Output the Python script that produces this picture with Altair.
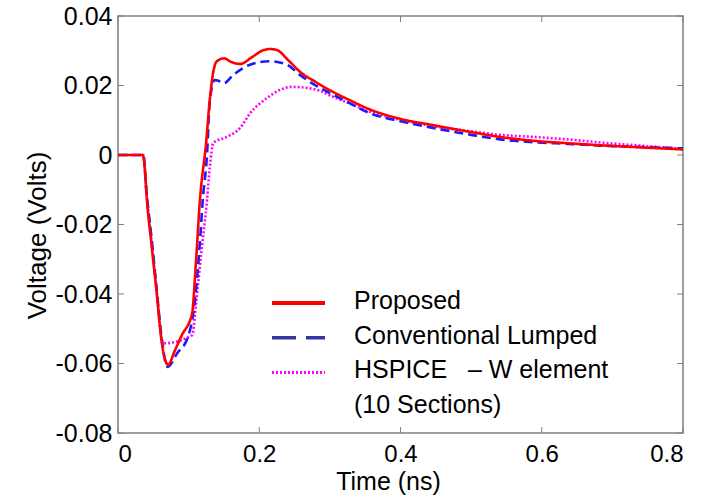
import altair as alt
import pandas as pd

# ---- data ----
series_names = ["Proposed", "Conventional Lumped", "HSPICE\u00a0\u00a0\u00a0\u2013 W element"]
note_text = "(10 Sections)"

t_prop = [0, 0.035, 0.038, 0.041, 0.047, 0.054, 0.062, 0.071, 0.08, 0.09, 0.105,
          0.110, 0.116, 0.125, 0.130, 0.135, 0.140, 0.150, 0.160, 0.173, 0.190,
          0.205, 0.215, 0.225, 0.240, 0.258, 0.280, 0.305, 0.330, 0.352, 0.400,
          0.446, 0.500, 0.541, 0.588, 0.636, 0.683, 0.740, 0.800]
v_prop = [0, 0, -0.004, -0.013, -0.025, -0.038, -0.054, -0.0604, -0.0565, -0.052, -0.0455,
          -0.032, -0.013, 0.004, 0.016, 0.024, 0.027, 0.0278, 0.0268, 0.0262, 0.0282,
          0.0301, 0.0305, 0.0302, 0.0275, 0.0239, 0.0210, 0.0181, 0.0156, 0.0135, 0.0104,
          0.0086, 0.0066, 0.0052, 0.0041, 0.0034, 0.0028, 0.0022, 0.0016]

t_conv = [0, 0.036, 0.040, 0.047, 0.054, 0.062, 0.070, 0.084, 0.099, 0.109,
          0.116, 0.120, 0.126, 0.130, 0.137, 0.143, 0.150, 0.163, 0.187, 0.215,
          0.239, 0.258, 0.280, 0.305, 0.330, 0.352, 0.400, 0.446, 0.500, 0.541,
          0.588, 0.636, 0.683, 0.740, 0.800]
v_conv = [0, 0, -0.010, -0.023, -0.037, -0.053, -0.061, -0.057, -0.0524, -0.0417,
          -0.025, -0.013, 0.0, 0.0155, 0.0216, 0.0213, 0.0207, 0.0230, 0.0260, 0.0270,
          0.0260, 0.0230, 0.0200, 0.0173, 0.0147, 0.0124, 0.0097, 0.0078, 0.0058, 0.0045,
          0.0037, 0.0032, 0.0027, 0.0023, 0.0019]

t_hsp = [0, 0.036, 0.040, 0.047, 0.054, 0.064, 0.105, 0.111, 0.118, 0.126,
         0.130, 0.135, 0.154, 0.173, 0.187, 0.211, 0.229, 0.246, 0.268, 0.282,
         0.305, 0.330, 0.352, 0.400, 0.446, 0.500, 0.541, 0.588, 0.636, 0.683,
         0.740, 0.800]
v_hsp = [0, 0, -0.010, -0.024, -0.038, -0.0542, -0.0518, -0.0417, -0.028, -0.013,
         -0.0035, 0.0035, 0.0052, 0.0078, 0.0120, 0.0164, 0.0187, 0.0196, 0.0193, 0.0187,
         0.0167, 0.0147, 0.0128, 0.0101, 0.0083, 0.0068, 0.0058, 0.0052, 0.0045, 0.0036,
         0.0027, 0.0018]

x_ticks = [0, 0.2, 0.4, 0.6, 0.8]
y_ticks = [-0.08, -0.06, -0.04, -0.02, 0, 0.02, 0.04]

# ---- styles ----
colors = ["#ff0000", "#1a1aff", "#ff00ff"]
legend_colors = ["#ff0000", "#35359f", "#ff00ff"]
dashes = [[1, 0], [9, 5], [2, 2]]
legend_dashes = [[1, 0], [24, 10], [2, 2]]
widths = [2.6, 2.6, 2.0]
legend_widths = [4, 3.5, 3]

# ---- tables ----
rows = []
for name, ts, vs in [(series_names[2], t_hsp, v_hsp),
                     (series_names[1], t_conv, v_conv),
                     (series_names[0], t_prop, v_prop)]:
    for t, v in zip(ts, vs):
        rows.append({"series": name, "t": t, "v": v})
df = pd.DataFrame(rows)
xt = pd.DataFrame({"t": x_ticks})
yt = pd.DataFrame({"v": y_ticks})

W, H = 565, 417
FONT = "Liberation Sans"
FRAME = "#808080"

xscale = alt.Scale(domain=[0, 0.8], nice=False, zero=False)
yscale = alt.Scale(domain=[-0.08, 0.04], nice=False, zero=False)

lines = alt.Chart(df).mark_line(strokeCap="butt", interpolate="monotone").encode(
    x=alt.X("t:Q", scale=xscale, title="Time (ns)",
            axis=alt.Axis(values=x_ticks, labelFontSize=24, titleFontSize=25, titleX=270,
                          labelExpr="datum.value == 0 ? '0' : format(datum.value, '.1f')")),
    y=alt.Y("v:Q", scale=yscale, title="Voltage (Volts)",
            axis=alt.Axis(values=y_ticks, labelFontSize=25, titleFontSize=26, titleY=219,
                          labelExpr="datum.value == 0 ? '0' : replace(format(datum.value, '.2f'), '\u2212', '-')")),
    color=alt.Color("series:N", scale=alt.Scale(domain=series_names, range=colors), legend=None),
    strokeDash=alt.StrokeDash("series:N", scale=alt.Scale(domain=series_names, range=dashes), legend=None),
    strokeWidth=alt.StrokeWidth("series:N", scale=alt.Scale(domain=series_names, range=widths), legend=None),
    order=alt.Order("t:Q"),
    detail="series:N",
)

# ---- legend drawn inside the plot (positions in pixels of the plot area) ----
LEG_X0, LEG_X1, LEG_TX, LEG_Y0, LEG_DY = 154, 207, 236, 287, 34.7
legend_layers = []
for i, name in enumerate(series_names):
    yy = LEG_Y0 + i * LEG_DY
    legend_layers.append(
        alt.Chart(pd.DataFrame({"series": [name]})).mark_rule(
            color=legend_colors[i], strokeDash=legend_dashes[i],
            strokeWidth=legend_widths[i], strokeCap="butt"
        ).encode(x=alt.value(LEG_X0), x2=alt.value(LEG_X1), y=alt.value(yy))
    )
    legend_layers.append(
        alt.Chart(pd.DataFrame({"series": [name]})).mark_text(
            align="left", baseline="middle", fontSize=25, font=FONT, color="black"
        ).encode(x=alt.value(LEG_TX), y=alt.value(yy - 2), text="series:N")
    )
legend_layers.append(
    alt.Chart(pd.DataFrame({"txt": [note_text]})).mark_text(
        align="left", baseline="middle", fontSize=25, font=FONT, color="black"
    ).encode(x=alt.value(LEG_TX), y=alt.value(LEG_Y0 + 3 * LEG_DY - 2), text="txt:N")
)

tick_len = 6
xb = alt.Chart(xt).mark_rule(color=FRAME, strokeWidth=1).encode(
    x=alt.X("t:Q", scale=xscale), y=alt.value(H), y2=alt.value(H - tick_len))
xtp = alt.Chart(xt).mark_rule(color=FRAME, strokeWidth=1).encode(
    x=alt.X("t:Q", scale=xscale), y=alt.value(0), y2=alt.value(tick_len))
yl = alt.Chart(yt).mark_rule(color=FRAME, strokeWidth=1).encode(
    y=alt.Y("v:Q", scale=yscale), x=alt.value(0), x2=alt.value(tick_len))
yr = alt.Chart(yt).mark_rule(color=FRAME, strokeWidth=1).encode(
    y=alt.Y("v:Q", scale=yscale), x=alt.value(W), x2=alt.value(W - tick_len))

chart = alt.layer(xb, xtp, yl, yr, lines, *legend_layers).properties(
    width=W, height=H,
    autosize=alt.AutoSizeParams(type="none"),
    padding={"left": 118, "top": 16, "right": 18, "bottom": 66},
).configure_view(stroke=FRAME, strokeWidth=1.5).configure_axis(
    grid=False, domain=False, ticks=False,
    labelFont=FONT, labelColor="black",
    titleFont=FONT, titleFontWeight="normal", titleColor="black",
).configure_axisX(labelPadding=9, titlePadding=3).configure_axisY(labelPadding=6, titlePadding=5)

chart.save("out.html", embed_options={"renderer": "svg", "actions": False})
